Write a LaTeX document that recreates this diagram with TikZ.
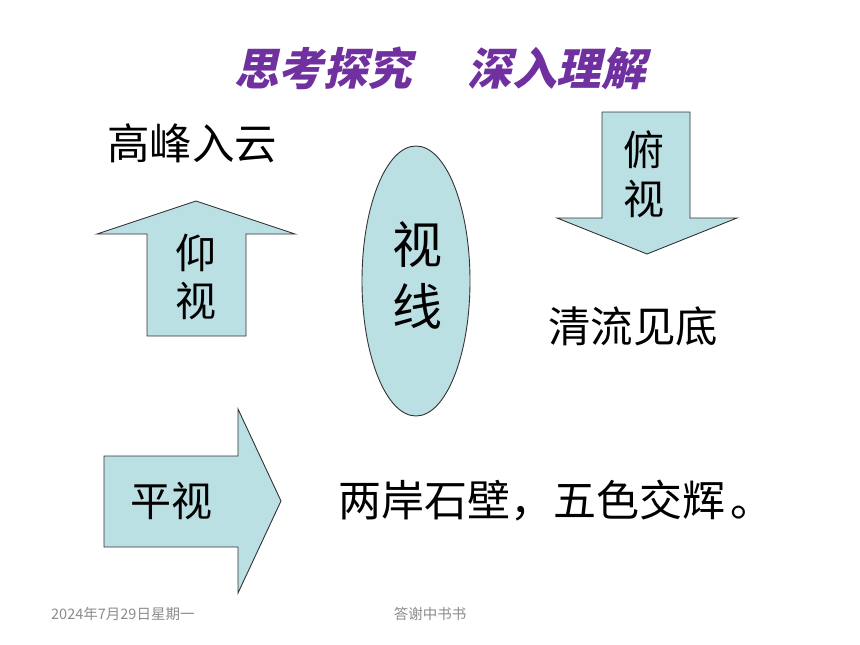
\documentclass[tikz,border=0pt]{standalone}
\usepackage{fontspec}
\newfontfamily\cjk{Noto Sans CJK SC}
\newfontfamily\cjkt{Noto Sans CJK SC}[FakeSlant=0.22]
\definecolor{shapefill}{HTML}{BBE0E3}
\definecolor{titlepurple}{HTML}{7030A0}
\definecolor{footgray}{HTML}{8C8C8C}
\tikzset{
  shapebox/.style={fill=shapefill, draw=black!80, line width=0.9pt, line join=miter},
  bigtxt/.style={font=\cjk\fontsize{42.5}{46}\selectfont, inner sep=0pt, text=black},
  lbltxt/.style={font=\cjk\fontsize{41}{46}\selectfont, inner sep=0pt, text=black},
  foot/.style={font=\cjk\fontsize{14.5}{16}\selectfont, text=footgray, inner sep=0pt}
}
\begin{document}
\begin{tikzpicture}[x=1pt,y=-1pt]
\useasboundingbox (0,0) rectangle (860,645);
% title
\node[font=\cjkt\bfseries\fontsize{44.5}{48}\selectfont, text=titlepurple, inner sep=0pt] (title) at (440,68) {思考探究\hspace{56pt}深入理解};
% up arrow
\draw[shapebox] (196,201) -- (295,234) -- (246,234) -- (246,336) -- (147,336) -- (147,234) -- (97,234) -- cycle;
\node[lbltxt] (yang1) at (196,253) {仰};
\node[lbltxt] (yang2) at (196,301) {视};
% down arrow
\draw[shapebox] (602,112) -- (690,112) -- (690,218) -- (737,218) -- (647,254) -- (557,218) -- (602,218) -- cycle;
\node[lbltxt] (fu1) at (644,150) {俯};
\node[lbltxt] (fu2) at (644,199) {视};
% ellipse
\draw[shapebox] (416,281) ellipse [x radius=54, y radius=135];
\node[font=\cjk\fontsize{50}{54}\selectfont, inner sep=0pt] (shi) at (417,245) {视};
\node[font=\cjk\fontsize{50}{54}\selectfont, inner sep=0pt] (xian) at (417,306) {线};
% right arrow
\draw[shapebox] (104,456) -- (238,456) -- (238,409) -- (281,501) -- (238,593) -- (238,547) -- (104,547) -- cycle;
\node[lbltxt] (ping) at (171,501) {平视};
% texts
\node[bigtxt] (gaofeng) at (192,143) {高峰入云};
\node[bigtxt] (qingliu) at (633,326) {清流见底};
\node[font=\cjk\fontsize{43}{46}\selectfont, inner sep=0pt, anchor=west] (liangan) at (338,501) {两岸石壁，五色交辉\hspace{5pt}。};
% footer
\node[foot, anchor=west] (date) at (51,614) {2024年7月29日星期一};
\node[foot] (src) at (430,614) {答谢中书书};
\end{tikzpicture}
\end{document}
